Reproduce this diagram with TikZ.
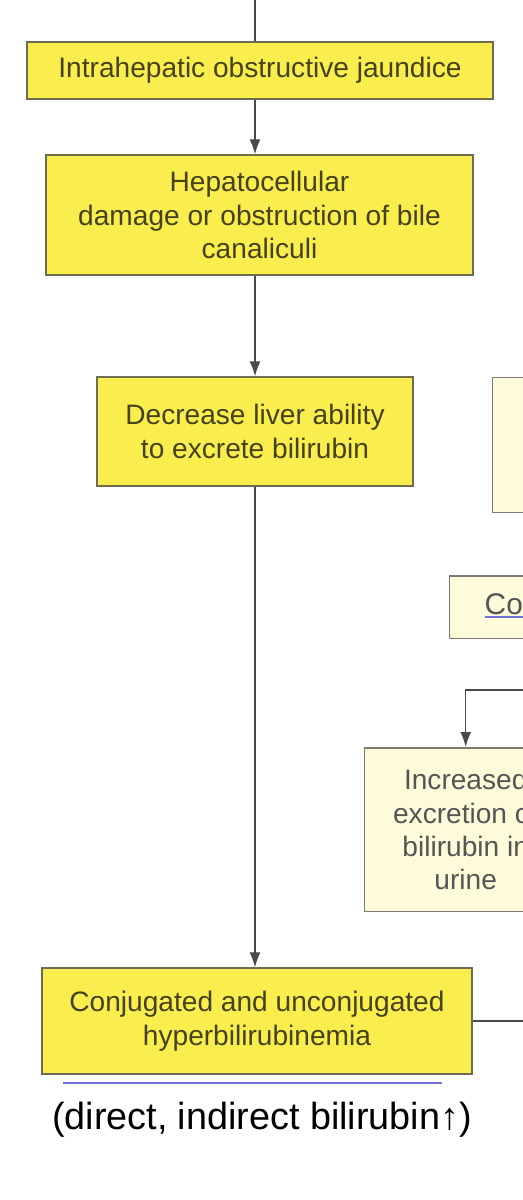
\documentclass[tikz,border=0pt]{standalone}
\usepackage{fontspec}
\setmainfont{Liberation Sans}
\usepackage{xcolor}
\usetikzlibrary{positioning, arrows.meta}
\definecolor{boxyellow}{HTML}{F9EE4D}
\definecolor{boxpale}{HTML}{FEFBDA}
\definecolor{boxedge}{HTML}{6E6C52}
\definecolor{paleedge}{HTML}{7A7A72}
\definecolor{olivetext}{HTML}{45421A}
\definecolor{paletext}{HTML}{555555}
\definecolor{wire}{HTML}{4A4A4A}
\definecolor{linkblue}{HTML}{6E72D8}
\newcommand\linkline[1]{\setbox0\hbox{#1}\rlap{\color{linkblue}\rule[-2pt]{\wd0}{1.2pt}}\box0}
\tikzset{
    fact/.style={rectangle, draw=boxedge, line width=0.85pt, fill=boxyellow, text=olivetext, align=center, inner sep=0pt, font=\fontsize{16}{19.3}\selectfont},
    note/.style={rectangle, draw=paleedge, line width=0.85pt, fill=boxpale, text=paletext, align=center, inner sep=0pt, font=\fontsize{16}{19}\selectfont},
    link/.style={-{Latex[length=0.3cm, width=0.22cm]}, draw=wire, line width=0.8pt},
    wireline/.style={draw=wire, line width=0.8pt},
    caption/.style={font=\fontsize{21.5}{26}\selectfont, text=black}
}

\begin{document}
\begin{tikzpicture}[x=0.02cm, y=-0.02cm]
    \useasboundingbox (0,0) rectangle (523,1200);
    \clip (0,0) rectangle (523,1200);

    % Main column
    \node[fact, minimum width=9.32cm, minimum height=1.14cm] (ihoj) at (260,70.5) {Intrahepatic obstructive jaundice};
    \node[fact, minimum width=8.54cm, minimum height=2.4cm] (damage) at (259.5,215) {Hepatocellular\\damage or obstruction of bile\\canaliculi};
    \node[fact, minimum width=6.32cm, minimum height=2.18cm] (decrease) at (255,431.5) {Decrease liver ability\\to excrete bilirubin};
    \node[fact, minimum width=8.6cm, minimum height=2.12cm] (hyper) at (257,1021) {Conjugated and unconjugated\\hyperbilirubinemia};
    \node[caption] (direct) at (262,1120) {(direct, indirect bilirubin↑)};

    % Right column (cut off)
    \node[note, anchor=north west, minimum width=4cm, minimum height=2.7cm] (upper) at (492,377) {};
    \node[note, anchor=north west, minimum width=4.4cm, minimum height=1.26cm, text width=3cm, align=left, inner xsep=0.64cm, font=\fontsize{17}{20}\selectfont] (conjurine) at (449,575) {\linkline{Conjugated}};
    \node[note, anchor=north west, minimum width=4.04cm, minimum height=3.28cm] (urine) at (364,747) {Increased\\excretion of\\bilirubin in\\urine};

    % Connectors
    \coordinate (topin) at (255,0);
    \coordinate (rightin) at (540,690);
    \coordinate (rightout) at (540,1021);
    \draw[wireline] (topin) -- (topin |- ihoj.north);
    \draw[link] (ihoj.south -| topin) -- (damage.north -| topin);
    \draw[link] (damage.south -| decrease) -- (decrease.north);
    \draw[link] (decrease.south) -- (decrease |- hyper.north);
    \draw[link] (rightin) -| (urine.north);
    \draw[wireline] (hyper.east) -- (rightout);

    % Underline below the box
    \draw[linkblue, line width=1.2pt] ([xshift=0.44cm, yshift=-0.16cm]hyper.south west) -- ([xshift=-0.62cm, yshift=-0.16cm]hyper.south east);
\end{tikzpicture}
\end{document}
